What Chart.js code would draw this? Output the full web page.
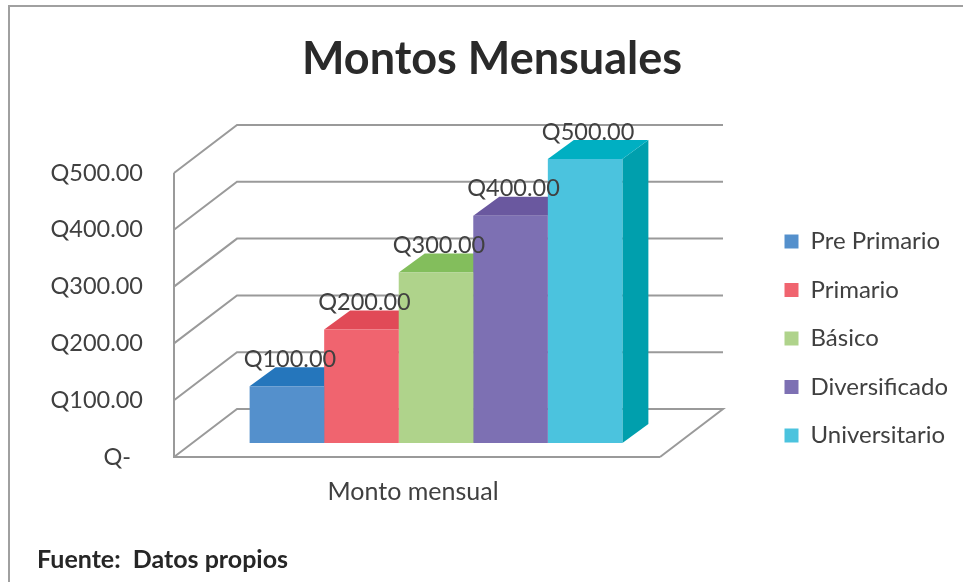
<!DOCTYPE html>
<html>
<head>
<meta charset="utf-8">
<style>html,body{margin:0;padding:0;background:#fff}canvas{display:block}</style>
<script src="https://cdn.jsdelivr.net/npm/chart.js@4"></script>
</head>
<body>
<canvas id="c" width="963" height="582"></canvas>
<script>
const categories = ['Monto mensual'];
const seriesNames = ['Pre Primario', 'Primario', 'Básico', 'Diversificado', 'Universitario'];
const seriesValues = [100, 200, 300, 400, 500];
const frontColors = ['#5490CC', '#F0646F', '#AFD38B', '#7D70B3', '#4BC3DE'];
const topColors = ['#2576BC', '#E14A57', '#83BE5C', '#6A589F', '#00AFC2'];
const sideColors = ['#1F66A5', '#C8404C', '#6FA84B', '#594A8C', '#009FAD'];

const FONT = 'Lato, Carlito, Calibri, sans-serif';
const TEXT = '#404040';
const LINE = '#9a9a9a';
const wall = {dx: 63, dy: 48};     // depth of the chart box
const shift = {dx: 19, dy: -14};   // bars stand inside the floor
const bar3d = {dx: 26, dy: 19};    // depth of each bar

function money(v) { return 'Q' + v.toFixed(2); }

function poly(ctx, pts, fill) {
  ctx.beginPath();
  pts.forEach((p, i) => i ? ctx.lineTo(p[0], p[1]) : ctx.moveTo(p[0], p[1]));
  ctx.closePath();
  ctx.fillStyle = fill;
  ctx.fill();
}

const box3d = {
  id: 'box3d',
  beforeDraw(chart) {
    const {ctx} = chart;
    ctx.save();
    ctx.strokeStyle = '#a0a0a0';
    ctx.lineWidth = 2;
    ctx.beginPath();
    ctx.moveTo(9, chart.height);
    ctx.lineTo(9, 6);
    ctx.lineTo(chart.width, 6);
    ctx.stroke();
    ctx.restore();
  },
  beforeDatasetsDraw(chart) {
    const {ctx, chartArea: a, scales: {y}} = chart;
    ctx.save();
    ctx.strokeStyle = LINE;
    ctx.lineWidth = 2;
    ctx.lineJoin = 'miter';
    const right = a.right + wall.dx;
    y.ticks.forEach(t => {
      const py = y.getPixelForValue(t.value);
      ctx.beginPath();
      ctx.moveTo(a.left, py);
      ctx.lineTo(a.left + wall.dx, py - wall.dy);
      ctx.lineTo(right, py - wall.dy);
      if (t.value === 0) {
        ctx.lineTo(a.right, py);
      }
      ctx.stroke();
    });
    ctx.beginPath();
    ctx.moveTo(a.left, a.top);
    ctx.lineTo(a.left, a.bottom);
    ctx.lineTo(a.right, a.bottom);
    ctx.stroke();
    ctx.restore();

    ctx.save();
    ctx.translate(shift.dx, shift.dy);
    chart.data.datasets.forEach((ds, i) => {
      const el = chart.getDatasetMeta(i).data[0];
      const l = el.x - el.width / 2, r = el.x + el.width / 2;
      poly(ctx, [[r, el.y], [r + bar3d.dx, el.y - bar3d.dy], [r + bar3d.dx, el.base - bar3d.dy], [r, el.base]], sideColors[i]);
      poly(ctx, [[l, el.y], [l + bar3d.dx, el.y - bar3d.dy], [r + bar3d.dx, el.y - bar3d.dy], [r, el.y]], topColors[i]);
    });
  },
  afterDatasetsDraw(chart) {
    const {ctx} = chart;
    ctx.fillStyle = TEXT;
    ctx.font = '23.5px ' + FONT;
    ctx.textAlign = 'center';
    ctx.textBaseline = 'middle';
    chart.data.datasets.forEach((ds, i) => {
      const el = chart.getDatasetMeta(i).data[0];
      ctx.fillText(money(ds.data[0]), el.x + 3, el.y - 27);
    });
    ctx.restore();
  }
};

new Chart(document.getElementById('c'), {
  type: 'bar',
  data: {
    labels: categories,
    datasets: seriesNames.map((name, i) => ({
      label: name,
      data: [seriesValues[i]],
      backgroundColor: frontColors[i],
      borderWidth: 0,
      clip: false
    }))
  },
  options: {
    responsive: false,
    animation: false,
    categoryPercentage: 0.767,
    barPercentage: 1,
    layout: {padding: {left: 37, right: 16, top: 0, bottom: 0}},
    scales: {
      x: {
        grid: {display: false},
        border: {display: false},
        ticks: {color: TEXT, font: {family: FONT, size: 25}, padding: 12, labelOffset: -4},
        afterFit(s) { s.height = 44; }
      },
      y: {
        min: 0, max: 500,
        grid: {display: false},
        border: {display: false},
        ticks: {
          stepSize: 100,
          color: TEXT,
          font: {family: FONT, size: 23.5},
          padding: 23,
          callback: v => v === 0 ? 'Q-  ' : money(v)
        },
        afterFit(s) { s.width = 137; }
      },
      spacer: {
        position: 'right',
        display: true,
        grid: {display: false},
        border: {display: false},
        ticks: {display: false},
        afterFit(s) { s.width = 100; }
      }
    },
    plugins: {
      tooltip: {enabled: false},
      title: {
        display: true,
        text: 'Montos Mensuales',
        color: '#2a2a2a',
        font: {family: FONT, size: 45, weight: 'bold'},
        padding: {top: 32, bottom: 87}
      },
      subtitle: {
        display: true,
        text: 'Fuente:  Datos propios',
        position: 'bottom',
        align: 'start',
        color: '#262626',
        font: {family: FONT, size: 25, weight: 'bold'},
        padding: {top: 44, bottom: 7}
      },
      legend: {
        position: 'right',
        align: 'start',
        maxWidth: 187,
        title: {display: true, text: ' ', font: {size: 1}, padding: {top: 203.8, bottom: 0}},
        labels: {
          color: TEXT,
          font: {family: FONT, size: 24},
          boxWidth: 14,
          boxHeight: 14,
          padding: 24.5
        }
      }
    }
  },
  plugins: [box3d]
});
</script>
</body>
</html>
